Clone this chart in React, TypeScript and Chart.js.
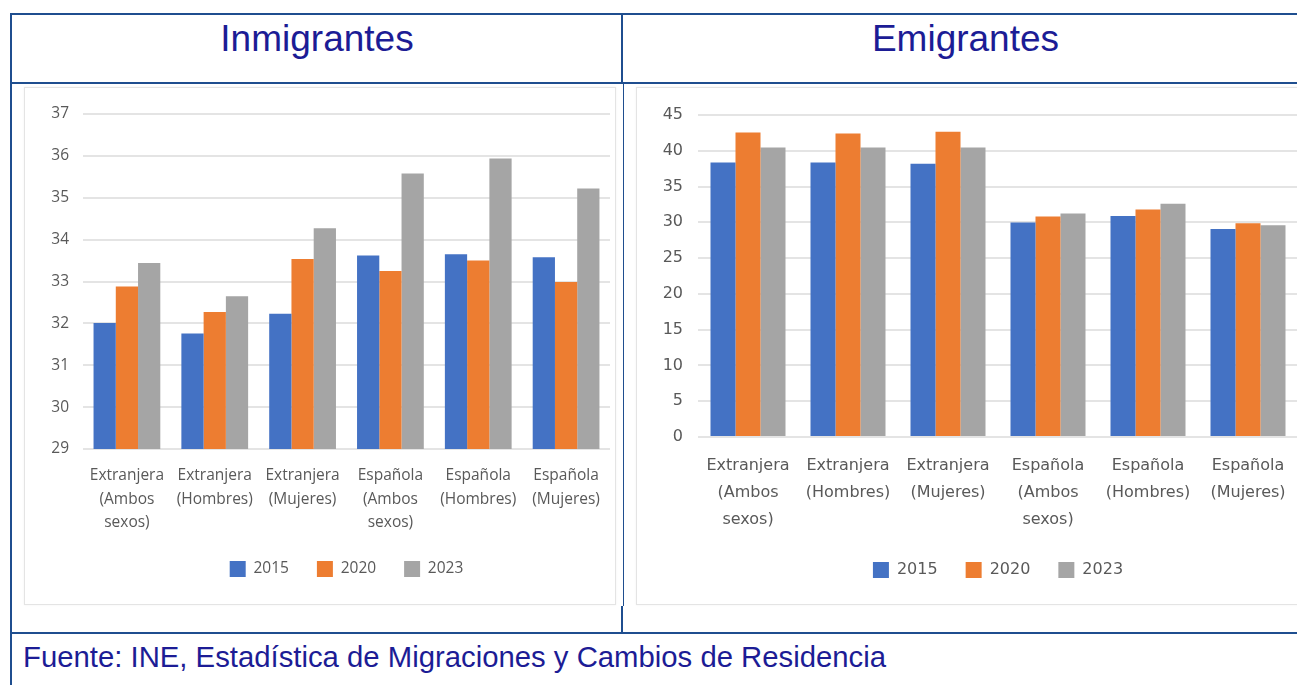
import React, { useEffect, useRef } from "react";
import { Chart, registerables } from "chart.js";

Chart.register(...registerables);

const categories: string[][] = [
  ["Extranjera", "(Ambos", "sexos)"],
  ["Extranjera", "(Hombres)"],
  ["Extranjera", "(Mujeres)"],
  ["Española", "(Ambos", "sexos)"],
  ["Española", "(Hombres)"],
  ["Española", "(Mujeres)"],
];
const years = ["2015", "2020", "2023"];
const seriesColors = ["#4472C4", "#ED7D31", "#A5A5A5"];

const inmigrantes2015 = [32.01, 31.76, 32.23, 33.62, 33.65, 33.58];
const inmigrantes2020 = [32.88, 32.27, 33.54, 33.25, 33.5, 32.99];
const inmigrantes2023 = [33.44, 32.65, 34.27, 35.58, 35.94, 35.22];

const emigrantes2015 = [38.35, 38.35, 38.2, 29.96, 30.9, 29.07];
const emigrantes2020 = [42.57, 42.43, 42.66, 30.8, 31.79, 29.86];
const emigrantes2023 = [40.46, 40.46, 40.46, 31.22, 32.58, 29.58];

const inmigrantesAxis = [29, 37, 1];
const emigrantesAxis = [0, 45, 5];

const headerLeft = "Inmigrantes";
const headerRight = "Emigrantes";
const footerText = "Fuente: INE, Estadística de Migraciones y Cambios de Residencia";

type PanelProps = {
  left: number;
  top: number;
  width: number;
  height: number;
  series: number[][];
  axis: number[];
  fontFamily: string;
  fontSize: number;
  lineHeight: number;
  yWidth: number;
  yPad: number;
  xHeight: number;
  xPad: number;
  padTop: number;
  padRight: number;
  padBottom: number;
  catPct: number;
};

function BarPanel(p: PanelProps) {
  const ref = useRef<HTMLCanvasElement | null>(null);
  useEffect(() => {
    if (!ref.current) return;
    const font = { family: p.fontFamily, size: p.fontSize };
    const chart = new Chart(ref.current, {
      type: "bar",
      data: {
        labels: categories,
        datasets: years.map((y, i) => ({
          label: y,
          data: p.series[i],
          backgroundColor: seriesColors[i],
          borderWidth: 0,
          categoryPercentage: p.catPct,
          barPercentage: 1,
        })),
      },
      options: {
        responsive: false,
        animation: false,
        layout: { padding: { top: p.padTop, right: p.padRight, left: 0, bottom: p.padBottom } },
        plugins: {
          tooltip: { enabled: false },
          legend: {
            position: "bottom",
            fullSize: false,
            labels: {
              boxWidth: 16,
              boxHeight: 16,
              padding: 28,
              color: "#595959",
              font,
            },
          },
        },
        scales: {
          x: {
            grid: { display: false },
            border: { display: false },
            ticks: {
              color: "#595959",
              font: { ...font, lineHeight: p.lineHeight / p.fontSize },
              padding: p.xPad,
              maxRotation: 0,
              autoSkip: false,
            },
            afterFit: (s: any) => {
              s.height = p.xHeight;
            },
          },
          y: {
            min: p.axis[0],
            max: p.axis[1],
            grid: { color: "#e4e4e4", lineWidth: 2, drawTicks: false },
            border: { display: false },
            ticks: {
              stepSize: p.axis[2],
              color: "#595959",
              font,
              padding: p.yPad,
            },
            afterFit: (s: any) => {
              s.width = p.yWidth;
            },
          },
        },
      },
    });
    return () => chart.destroy();
  }, []);
  return (
    <canvas
      ref={ref}
      width={p.width}
      height={p.height}
      style={{ position: "absolute", left: p.left, top: p.top, width: p.width, height: p.height }}
    />
  );
}

const blue = "#1f4e8f";
const textBlue = "#1c1c95";

function Line(props: { l: number; t: number; w: number; h: number }) {
  return (
    <div
      style={{
        position: "absolute",
        left: props.l,
        top: props.t,
        width: props.w,
        height: props.h,
        background: blue,
      }}
    />
  );
}

export default function App() {
  return (
    <div
      style={{
        position: "fixed",
        left: 0,
        top: 0,
        width: 1297,
        height: 685,
        overflow: "hidden",
        background: "#ffffff",
      }}
    >
      {/* chart panels */}
      <div
        style={{
          position: "absolute",
          left: 24,
          top: 87,
          width: 592,
          height: 518,
          boxSizing: "border-box",
          border: "1px solid #e4e4e4",
          boxShadow: "0 0 2px rgba(0,0,0,0.06)",
        }}
      />
      <div
        style={{
          position: "absolute",
          left: 636,
          top: 87,
          width: 700,
          height: 518,
          boxSizing: "border-box",
          border: "1px solid #e4e4e4",
          boxShadow: "0 0 2px rgba(0,0,0,0.06)",
        }}
      />
      <BarPanel
        left={24}
        top={88}
        width={592}
        height={517}
        series={[inmigrantes2015, inmigrantes2020, inmigrantes2023]}
        axis={inmigrantesAxis}
        fontFamily="'Open Sans', sans-serif"
        fontSize={15.5}
        lineHeight={23.5}
        yWidth={59}
        yPad={14}
        xHeight={84}
        xPad={7}
        padTop={26}
        padRight={6}
        padBottom={18}
        catPct={0.76}
      />
      <BarPanel
        left={636}
        top={88}
        width={680}
        height={517}
        series={[emigrantes2015, emigrantes2020, emigrantes2023]}
        axis={emigrantesAxis}
        fontFamily="'DejaVu Sans', sans-serif"
        fontSize={16}
        lineHeight={27}
        yWidth={62}
        yPad={15}
        xHeight={97}
        xPad={7}
        padTop={27}
        padRight={18}
        padBottom={17}
        catPct={0.75}
      />
      {/* table lines */}
      <Line l={10} t={13} w={1300} h={2} />
      <Line l={10} t={13} w={2} h={672} />
      <Line l={10} t={82} w={1300} h={2} />
      <Line l={621} t={13} w={2} h={71} />
      <div style={{ position: "absolute", left: 623, top: 84, width: 1, height: 522, background: blue }} />
      <Line l={621} t={606} w={2} h={27} />
      <Line l={10} t={632} w={1300} h={2} />
      {/* texts */}
      <div
        style={{
          position: "absolute",
          left: 12,
          top: 20,
          width: 610,
          textAlign: "center",
          font: "37px 'Liberation Sans', Arial, sans-serif",
          lineHeight: "37px",
          color: textBlue,
        }}
      >
        {headerLeft}
      </div>
      <div
        style={{
          position: "absolute",
          left: 623,
          top: 20,
          width: 685,
          textAlign: "center",
          font: "37px 'Liberation Sans', Arial, sans-serif",
          lineHeight: "37px",
          color: textBlue,
        }}
      >
        {headerRight}
      </div>
      <div
        style={{
          position: "absolute",
          left: 23,
          top: 642,
          whiteSpace: "nowrap",
          font: "29.3px 'Liberation Sans', Arial, sans-serif",
          lineHeight: "29px",
          color: textBlue,
        }}
      >
        {footerText}
      </div>
    </div>
  );
}
